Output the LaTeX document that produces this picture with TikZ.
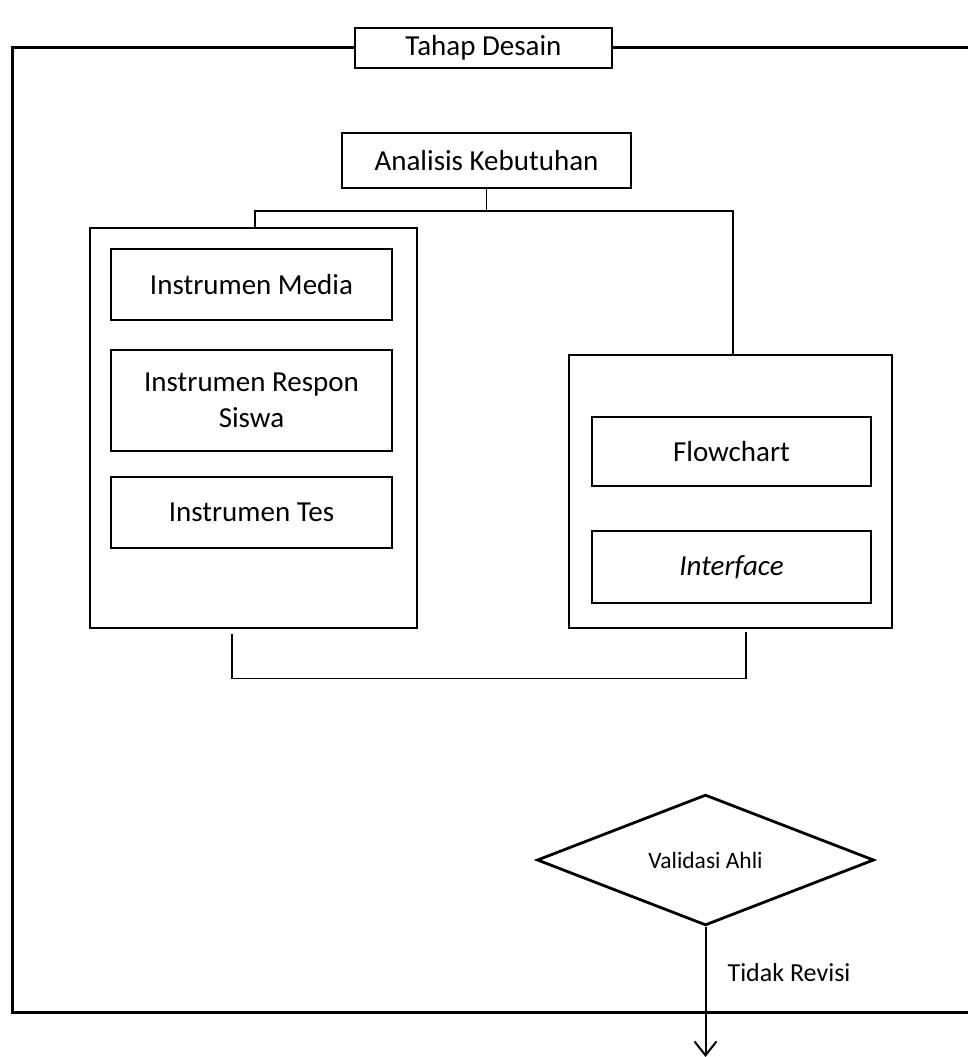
\documentclass[tikz,border=0pt]{standalone}
\usepackage{fontspec}
\setmainfont{Carlito}
\usepackage{tikz}
\usetikzlibrary{shapes.geometric, arrows.meta}

\begin{document}
\begin{tikzpicture}[x=1pt, y=-1pt,
    boxnode/.style={draw, line width=2.8pt, inner sep=0pt, align=center,
        minimum width=281pt, font=\fontsize{29}{36}\selectfont},
    groupbox/.style={draw, line width=2.8pt, inner sep=0pt},
    link/.style={line width=1.3pt},
    smalltext/.style={font=\fontsize{23.5}{28}\selectfont}]
    \useasboundingbox (0,0) rectangle (968,1057);

    % Title box sitting on the outer frame
    \node[boxnode, minimum width=257pt, minimum height=40pt] (title) at (483.5,48) {Tahap Desain};
    \coordinate (ftl) at (12,48);
    \coordinate (fbl) at (12,1012);
    \coordinate (ftr) at (975,48);
    \coordinate (fbr) at (975,1012);
    \draw[line width=3pt] (title.west) -- (ftl) -- (fbl) -- (fbr);
    \draw[line width=3pt] (title.east) -- (ftr);

    % Needs analysis
    \node[boxnode, minimum width=289pt, minimum height=55pt] (ana) at (486.5,160.5) {Analisis Kebutuhan};

    % Left group: instruments
    \node[groupbox, minimum width=327pt, minimum height=400pt] (lbox) at (253.5,428) {};
    \node[boxnode, minimum height=71pt] (media) at (251.5,284.5) {Instrumen Media};
    \node[boxnode, minimum height=101pt] (respon) at (251.5,400.5) {Instrumen Respon\\Siswa};
    \node[boxnode, minimum height=71pt] (tes) at (251.5,512.5) {Instrumen Tes};

    % Right group: design
    \node[groupbox, minimum width=323pt, minimum height=273pt] (rbox) at (730.5,491.5) {};
    \node[boxnode, minimum width=279pt, minimum height=69pt] (flow) at (731.5,451.5) {Flowchart};
    \node[boxnode, minimum width=279pt, minimum height=72pt] (inter) at (731.5,567) {\textit{Interface}};

    % Branch from analysis to both groups
    \coordinate (split) at (486.5,211);
    \draw[link] (ana.south) -- (split);
    \draw[link] ([xshift=1.5pt]lbox.north) |- (split) -| ([xshift=2.5pt]rbox.north);

    % Join both groups
    \draw[link] ([xshift=-21.5pt,yshift=-5pt]lbox.south) -- ++(0,44) -| ([xshift=15.5pt,yshift=-3pt]rbox.south);

    % Expert validation
    \node[diamond, draw, line width=2.8pt, inner sep=0pt, minimum width=337pt,
        minimum height=130pt, smalltext] (valid) at (705.5,860) {Validasi Ahli};
    \coordinate (out) at (705.5,1057);
    \draw[line width=2pt, -{Straight Barb[length=14pt, width=22pt]}] (valid.south) -- (out);
    \node[font=\fontsize{26}{31}\selectfont] (norev) at (789,973) {Tidak Revisi};
\end{tikzpicture}
\end{document}
